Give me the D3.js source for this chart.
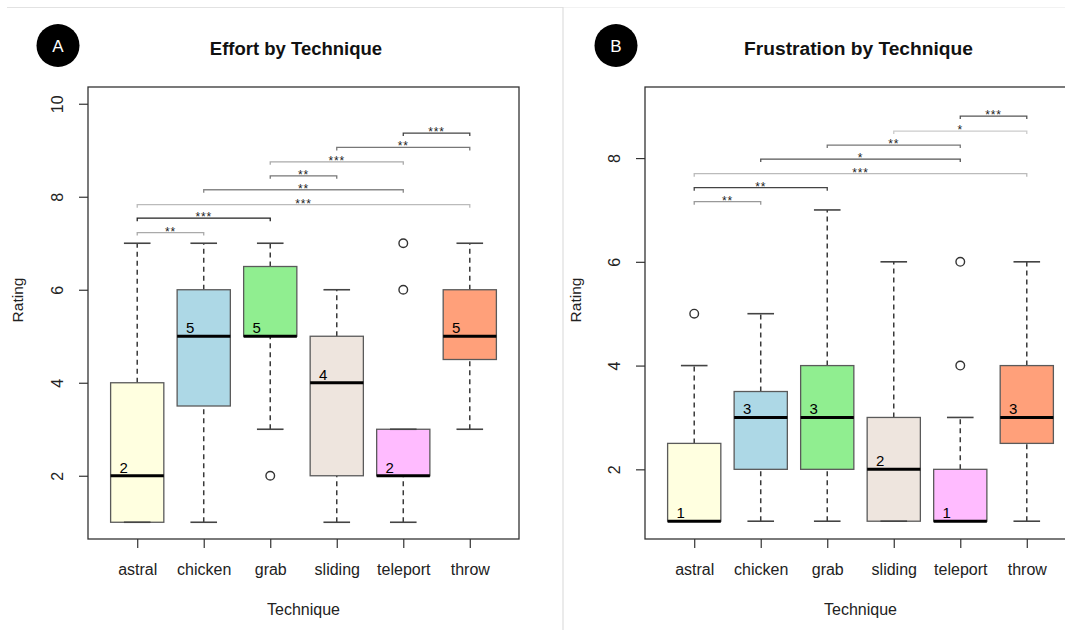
<!DOCTYPE html>
<html>
<head>
<meta charset="utf-8">
<script src="https://cdn.jsdelivr.net/npm/d3@7/dist/d3.min.js"></script>
<style>
  html, body { margin: 0; padding: 0; background: #fff; }
  svg { display: block; font-family: "Liberation Sans", Arial, Helvetica, sans-serif; }
</style>
</head>
<body>
<svg id="chart" width="1065" height="630"></svg>
<script>
// Techniques compared in both panels
const categories = ["astral", "chicken", "grab", "sliding", "teleport", "throw"];
const boxFills = ["#FFFFE0", "#ADD8E6", "#90EE90", "#EEE5DE", "#FFBBFF", "#FFA07A"];

// Effort ratings: five-number summaries per technique
const effortLow    = [1, 1, 3, 1, 1, 3];
const effortQ1     = [1, 3.5, 5, 2, 2, 4.5];
const effortMedian = [2, 5, 5, 4, 2, 5];
const effortQ3     = [4, 6, 6.5, 5, 3, 6];
const effortHigh   = [7, 7, 7, 6, 3, 7];
const effortOutliers = [[], [], [2], [], [6, 7], []];
const effortTicks = [2, 4, 6, 8, 10];

// Effort pairwise comparisons
const effortPairs = [["teleport", "throw"], ["sliding", "throw"], ["grab", "teleport"], ["grab", "sliding"],
                     ["chicken", "teleport"], ["astral", "throw"], ["astral", "grab"], ["astral", "chicken"]];
const effortStars = ["***", "**", "***", "**", "**", "***", "***", "**"];
const effortLevels = [9.37, 9.06, 8.75, 8.45, 8.15, 7.83, 7.54, 7.23];
const effortTone = ["#444", "#777", "#aaa", "#777", "#888", "#bbb", "#222", "#aaa"];

// Frustration ratings: five-number summaries per technique
const frustLow    = [1, 1, 1, 1, 1, 1];
const frustQ1     = [1, 2, 2, 1, 1, 2.5];
const frustMedian = [1, 3, 3, 2, 1, 3];
const frustQ3     = [2.5, 3.5, 4, 3, 2, 4];
const frustHigh   = [4, 5, 7, 6, 3, 6];
const frustOutliers = [[5], [], [], [], [4, 6], []];
const frustTicks = [2, 4, 6, 8];

// Frustration pairwise comparisons
const frustPairs = [["teleport", "throw"], ["sliding", "throw"], ["grab", "teleport"], ["chicken", "teleport"],
                    ["astral", "throw"], ["astral", "grab"], ["astral", "chicken"]];
const frustStars = ["***", "*", "**", "*", "***", "**", "**"];
const frustLevels = [8.81, 8.52, 8.25, 7.98, 7.70, 7.43, 7.16];
const frustTone = ["#555", "#ccc", "#777", "#555", "#bbb", "#444", "#999"];

const svg = d3.select("#chart");

// Light frame lines separating the two figures
svg.append("line").attr("x1", 7).attr("x2", 563).attr("y1", 7.5).attr("y2", 7.5)
  .attr("stroke", "#e2e2e2").attr("stroke-width", 1.2);
svg.append("line").attr("x1", 563).attr("x2", 1065).attr("y1", 7.5).attr("y2", 7.5)
  .attr("stroke", "#f2f2f2").attr("stroke-width", 1);
svg.append("line").attr("x1", 563).attr("x2", 563).attr("y1", 7).attr("y2", 630)
  .attr("stroke", "#dedede").attr("stroke-width", 1.2);

function drawPanel(opt) {
  const g = svg.append("g");
  const x = d3.scaleLinear().domain([0.26, 6.74]).range([opt.left, opt.left + 431]);
  const y = d3.scaleLinear().domain(opt.yDomain).range([539, 87]);
  const pos = c => x(categories.indexOf(c) + 1);
  const halfBox = x(1.4) - x(1);
  const halfCap = x(1.2) - x(1);

  // Panel badge and title
  g.append("circle").attr("cx", opt.badgeX).attr("cy", 45.5).attr("r", 21.5).attr("fill", "#000");
  g.append("text").attr("x", opt.badgeX).attr("y", 51.5).attr("text-anchor", "middle")
    .attr("fill", "#fff").attr("font-size", 17).text(opt.badge);
  g.append("text").attr("x", opt.titleX).attr("y", 55).attr("text-anchor", "middle")
    .attr("font-size", opt.titleSize).attr("font-weight", "bold").attr("fill", "#111").text(opt.title);

  // Boxplots
  const boxes = g.append("g").selectAll("g").data(categories).join("g");
  boxes.each(function (c, i) {
    const b = d3.select(this);
    const cx = x(i + 1);
    // whiskers
    [[opt.low[i], opt.q1[i]], [opt.q3[i], opt.high[i]]].forEach(([a, z]) => {
      if (a !== z) {
        b.append("line").attr("x1", cx).attr("x2", cx).attr("y1", y(a)).attr("y2", y(z))
          .attr("stroke", "#3a3a3a").attr("stroke-width", 1.5).attr("stroke-dasharray", "5,4");
      }
    });
    // box
    b.append("rect").attr("x", cx - halfBox).attr("width", halfBox * 2)
      .attr("y", y(opt.q3[i])).attr("height", y(opt.q1[i]) - y(opt.q3[i]))
      .attr("fill", boxFills[i]).attr("stroke", "#5a5a5a").attr("stroke-width", 1.3);
    // caps
    [opt.low[i], opt.high[i]].forEach(v => {
      b.append("line").attr("x1", cx - halfCap).attr("x2", cx + halfCap)
        .attr("y1", y(v)).attr("y2", y(v)).attr("stroke", "#444").attr("stroke-width", 1.6);
    });
    // median
    b.append("line").attr("x1", cx - halfBox).attr("x2", cx + halfBox)
      .attr("y1", y(opt.median[i])).attr("y2", y(opt.median[i]))
      .attr("stroke", "#000").attr("stroke-width", 3);
    b.append("text").attr("x", cx - 13.5).attr("y", y(opt.median[i]) - 3)
      .attr("text-anchor", "middle").attr("font-size", 15).attr("fill", "#000")
      .text(opt.median[i]);
    // outliers
    opt.outliers[i].forEach(v => {
      b.append("circle").attr("cx", cx).attr("cy", y(v)).attr("r", 4.3)
        .attr("fill", "none").attr("stroke", "#333").attr("stroke-width", 1.4);
    });
  });

  // Significance brackets
  const br = g.append("g").selectAll("g").data(opt.pairs).join("g");
  br.each(function (p, i) {
    const b = d3.select(this);
    const x1 = pos(p[0]), x2 = pos(p[1]), yy = y(opt.levels[i]);
    b.append("path").attr("d", `M${x1},${yy + 3}V${yy}H${x2}V${yy + 3}`)
      .attr("fill", "none").attr("stroke", opt.tone[i]).attr("stroke-width", 1.3);
    b.append("text").attr("x", (x1 + x2) / 2).attr("y", yy + 3).attr("text-anchor", "middle")
      .attr("font-size", 12).attr("letter-spacing", 0.8).attr("fill", "#222").text(opt.stars[i]);
  });

  // Axes
  const yAxis = g.append("g").attr("transform", `translate(${opt.left},0)`)
    .call(d3.axisLeft(y).tickValues(opt.ticks).tickSize(9).tickSizeOuter(0));
  yAxis.select(".domain").remove();
  yAxis.selectAll(".tick line").attr("stroke", "#333").attr("stroke-width", 1.2);
  yAxis.selectAll(".tick text").attr("x", null).attr("dy", null).attr("y", -25)
    .attr("transform", "rotate(-90)").attr("text-anchor", "middle")
    .attr("font-size", 16).attr("fill", "#222").attr("font-family", null);

  const xAxis = g.append("g").attr("transform", "translate(0,539)")
    .call(d3.axisBottom(x).tickValues(d3.range(1, 7)).tickFormat(d => categories[d - 1]).tickSize(9));
  xAxis.select(".domain").remove();
  xAxis.selectAll(".tick line").attr("stroke", "#333").attr("stroke-width", 1.2);
  xAxis.selectAll(".tick text").attr("dy", null).attr("y", 36).attr("font-size", 16)
    .attr("fill", "#222").attr("font-family", null);

  // Plot frame
  g.append("rect").attr("x", opt.left).attr("y", 87).attr("width", 431).attr("height", 452)
    .attr("fill", "none").attr("stroke", "#333").attr("stroke-width", 1.3);

  // Axis titles
  g.append("text").attr("transform", `translate(${opt.ylabX},300) rotate(-90)`)
    .attr("text-anchor", "middle").attr("font-size", 15.5).attr("fill", "#222").text("Rating");
  g.append("text").attr("x", opt.left + 215.5).attr("y", 615).attr("text-anchor", "middle")
    .attr("font-size", 16).attr("fill", "#222").text("Technique");
}

drawPanel({
  left: 88, yDomain: [0.64, 10.36], ticks: effortTicks,
  low: effortLow, q1: effortQ1, median: effortMedian, q3: effortQ3, high: effortHigh,
  outliers: effortOutliers, pairs: effortPairs, stars: effortStars, levels: effortLevels, tone: effortTone,
  badge: "A", badgeX: 58, title: "Effort by Technique", titleX: 296, titleSize: 18.5, ylabX: 23
});

drawPanel({
  left: 645, yDomain: [0.657, 9.37], ticks: frustTicks,
  low: frustLow, q1: frustQ1, median: frustMedian, q3: frustQ3, high: frustHigh,
  outliers: frustOutliers, pairs: frustPairs, stars: frustStars, levels: frustLevels, tone: frustTone,
  badge: "B", badgeX: 616, title: "Frustration by Technique", titleX: 858.5, titleSize: 19.2, ylabX: 581
});
</script>
</body>
</html>
